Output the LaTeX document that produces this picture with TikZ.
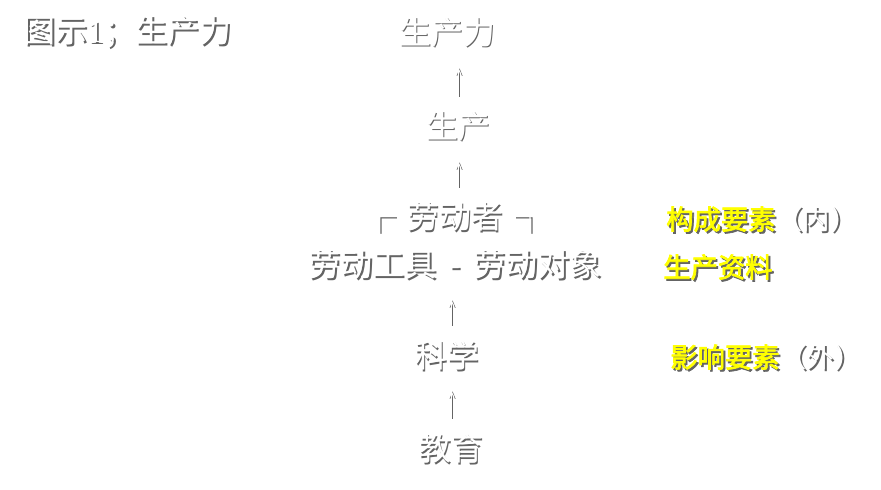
\documentclass[tikz,border=0pt]{standalone}
\usepackage{fontspec}
\usepackage{xcolor}
\usetikzlibrary{arrows.meta}

\newfontfamily\cjk{Noto Sans CJK SC}
\newfontfamily\cjkbold[FakeBold=2.5]{Noto Sans CJK SC}
\newfontfamily\serifdigit{Liberation Serif}
\definecolor{shadowgray}{RGB}{100,100,100}
\definecolor{noteyellow}{RGB}{255,255,0}
% white text with a soft drop shadow
\newcommand{\shadowtext}[2][white]{\makebox[0pt][l]{\hspace{1.4pt}\raisebox{-1.4pt}{\textcolor{shadowgray}{#2}}}\textcolor{#1}{#2}}

\begin{document}
\begin{tikzpicture}[x=0.75pt, y=-0.75pt,
    every node/.style={inner sep=0pt, font=\cjk\fontsize{24}{28}\selectfont},
    note/.style={anchor=west, font=\cjkbold\fontsize{20.5}{24}\selectfont},
    uparr/.style={draw=white, line width=0.7pt, shorten <=24pt, shorten >=25pt,
      -{Straight Barb[length=5pt,width=4pt]},
      preaction={draw=shadowgray, transform canvas={shift={(1.2pt,-1.2pt)}}}}]
    \fill[white] (0,0) rectangle (881,489);
    \useasboundingbox (0,0) rectangle (881,489);

    \node (title) [anchor=west] at (23,33) {\shadowtext{图示{\serifdigit 1}；生产力}};
    \node (shengchanli) at (447,33) {\shadowtext{生产力}};
    \node (shengchan) at (458,127) {\shadowtext{生产}};
    \node (laodongzhe) at (455,218) {\shadowtext{┌\hspace{0.35em}劳动者\hspace{0.35em}┐}};
    \node (gongju) at (455,265) {\shadowtext{劳动工具\hspace{0.4em}-\hspace{0.4em}劳动对象}};
    \node (kexue) at (447,356) {\shadowtext{科学}};
    \node (jiaoyu) at (451,449) {\shadowtext{教育}};

    \node[note] (neiyaosu) at (666,220) {\shadowtext[noteyellow]{构成要素}{\cjk\shadowtext{（内）}}};
    \node[note] (ziliao) at (663,268) {\shadowtext[noteyellow]{生产资料}};
    \node[note] (waiyaosu) at (670,358) {\shadowtext[noteyellow]{影响要素}{\cjk\shadowtext{（外）}}};

    \draw[uparr] (shengchan.center) -- (shengchan |- shengchanli);
    \draw[uparr] (shengchan |- laodongzhe) -- (shengchan.center);
    \draw[uparr] (jiaoyu |- kexue) -- (jiaoyu |- gongju);
    \draw[uparr] (jiaoyu.center) -- (jiaoyu |- kexue);
\end{tikzpicture}
\end{document}
